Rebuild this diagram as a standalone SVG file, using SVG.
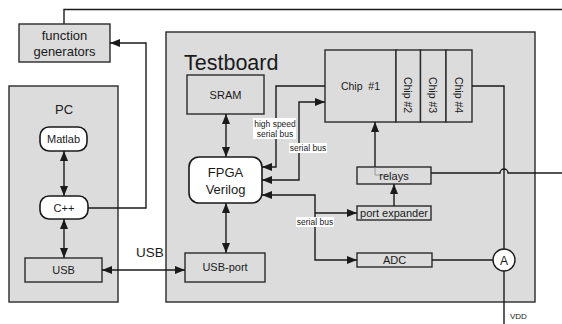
<svg xmlns="http://www.w3.org/2000/svg" width="562" height="324" viewBox="0 0 562 324">
  <style>
    .box { fill: #dcdcdc; stroke: #2a2a2a; stroke-width: 1.4; }
    .rbox { fill: #ffffff; stroke: #1a1a1a; stroke-width: 1.6; }
    .ln { fill: none; stroke: #1a1a1a; stroke-width: 1.4; }
    .t { font-family: "Liberation Sans", Arial, sans-serif; fill: #1a1a1a; text-anchor: middle; dominant-baseline: central; }
    .s11 { font-size: 11px; }
    .s13 { font-size: 13px; }
    .lbl { font-family: "Liberation Sans", Arial, sans-serif; font-size: 8.5px; fill: #1a1a1a; text-anchor: middle; dominant-baseline: central; }
    .bg { fill: #ffffff; }
  </style>
  <defs>
    <marker id="ah" viewBox="0 0 10 8" refX="10" refY="4" markerWidth="10" markerHeight="8" orient="auto-start-reverse" markerUnits="userSpaceOnUse">
      <path d="M0,0 L10,4 L0,8 z" fill="#1a1a1a"/>
    </marker>
  </defs>

  <rect width="562" height="324" fill="#ffffff"/>

  <!-- containers -->
  <g id="pc">
    <rect class="box" x="9" y="86" width="109" height="216"/>
    <text class="t s13" x="64" y="109">PC</text>
  </g>
  <g id="testboard">
    <rect class="box" x="166" y="32" width="369" height="270"/>
    <text x="184" y="70" font-family="Liberation Sans, Arial, sans-serif" font-size="21.5" fill="#1a1a1a">Testboard</text>
  </g>

  <!-- nodes -->
  <g id="function-generators">
    <rect class="box" x="19" y="24" width="91" height="38"/>
    <text class="t s13" x="64.5" y="35">function</text>
    <text class="t s13" x="64.5" y="51">generators</text>
  </g>
  <g id="matlab">
    <rect class="rbox" x="40" y="127" width="47" height="24" rx="9"/>
    <text class="t s11" x="63.5" y="139">Matlab</text>
  </g>
  <g id="cpp">
    <rect class="rbox" x="40" y="196" width="48" height="23" rx="9"/>
    <text class="t s11" x="64" y="207.5">C++</text>
  </g>
  <g id="usb-pc">
    <rect class="box" x="25" y="258" width="77" height="24"/>
    <text class="t s11" x="63.5" y="270">USB</text>
  </g>
  <g id="sram">
    <rect class="box" x="187" y="75" width="77" height="39"/>
    <text class="t s11" x="225.5" y="94.5">SRAM</text>
  </g>
  <g id="fpga">
    <rect class="rbox" x="189" y="157" width="73" height="46" rx="10"/>
    <text class="t s13" x="225.5" y="172">FPGA</text>
    <text class="t s13" x="225.5" y="189">Verilog</text>
  </g>
  <g id="usb-port">
    <rect class="box" x="185" y="253" width="80" height="29"/>
    <text class="t s11" x="225" y="267">USB-port</text>
  </g>
  <g id="chip1">
    <rect class="box" x="325" y="50" width="71" height="72"/>
    <text class="t" x="360.5" y="86" font-size="10.5" style="white-space:pre">Chip  #1</text>
  </g>
  <g id="chip2">
    <rect class="box" x="396" y="50" width="24.5" height="72"/>
    <text class="t" transform="translate(408.2,95) rotate(90)" font-size="10.5">Chip #2</text>
  </g>
  <g id="chip3">
    <rect class="box" x="420.5" y="50" width="25.5" height="72"/>
    <text class="t" transform="translate(433.2,95) rotate(90)" font-size="10.5">Chip #3</text>
  </g>
  <g id="chip4">
    <rect class="box" x="446" y="50" width="26" height="72"/>
    <text class="t" transform="translate(459,95) rotate(90)" font-size="10.5">Chip #4</text>
  </g>
  <g id="relays">
    <rect class="box" x="357" y="167" width="74" height="17"/>
    <path d="M375,167 V175 H386" fill="none" stroke="#8a8a8a" stroke-width="0.8"/>
    <text class="t s11" x="394" y="175.5">relays</text>
  </g>
  <g id="port-expander">
    <rect class="box" x="357" y="206" width="74" height="14"/>
    <text class="t s11" x="394" y="213">port expander</text>
  </g>
  <g id="adc">
    <rect class="box" x="357" y="253" width="75" height="14"/>
    <text class="t s11" x="394.5" y="260">ADC</text>
  </g>
  <g id="ammeter">
    <circle cx="504" cy="260" r="11" fill="#ffffff" stroke="#1a1a1a" stroke-width="1.4"/>
    <text class="t" x="504" y="260.5" font-size="12">A</text>
  </g>

  <!-- connectors -->
  <g id="connectors">
    <path class="ln" d="M64,24 V9.5 H562"/>
    <path class="ln" d="M88,208 H146 V43 H110" marker-end="url(#ah)"/>
    <path class="ln" d="M64,151 V196" marker-start="url(#ah)" marker-end="url(#ah)"/>
    <path class="ln" d="M64,219 V258" marker-start="url(#ah)" marker-end="url(#ah)"/>
    <path class="ln" d="M102,270 H185" marker-start="url(#ah)" marker-end="url(#ah)"/>
    <path class="ln" d="M226,114 V157" marker-start="url(#ah)" marker-end="url(#ah)"/>
    <path class="ln" d="M226,203 V253" marker-start="url(#ah)" marker-end="url(#ah)"/>
    <path class="ln" d="M325,86 H276 V167 H262" marker-end="url(#ah)"/>
    <path class="ln" d="M262,180 H299 V102 H325" marker-start="url(#ah)" marker-end="url(#ah)"/>
    <path class="ln" d="M262,195 H315 V260 H357" marker-start="url(#ah)" marker-end="url(#ah)"/>
    <path class="ln" d="M315,213 H357" marker-end="url(#ah)"/>
    <path class="ln" d="M375,167 V122" marker-end="url(#ah)"/>
    <path class="ln" d="M394,206 V184" marker-end="url(#ah)"/>
    <path class="ln" d="M472,86 H504 V249"/>
    <path class="ln" d="M431,173 H500 A4,4 0 0 1 508,173 H562"/>
    <path class="ln" d="M432,260 H493"/>
    <path class="ln" d="M504,271 V324"/>

    <!-- connector labels -->
    <text x="150" y="257" font-family="Liberation Sans, Arial, sans-serif" font-size="13.5" fill="#1a1a1a" text-anchor="middle">USB</text>
    <rect class="bg" x="253" y="118" width="43" height="21"/>
    <text class="lbl" x="275" y="123.5">high speed</text>
    <text class="lbl" x="275" y="133.5">serial bus</text>
    <rect class="bg" x="289" y="143" width="38" height="10"/>
    <text class="lbl" x="308" y="148">serial bus</text>
    <rect class="bg" x="296" y="217" width="38" height="10"/>
    <text class="lbl" x="315" y="222">serial bus</text>
    <text x="510" y="319" font-family="Liberation Sans, Arial, sans-serif" font-size="8" fill="#1a1a1a">VDD</text>
  </g>
</svg>
